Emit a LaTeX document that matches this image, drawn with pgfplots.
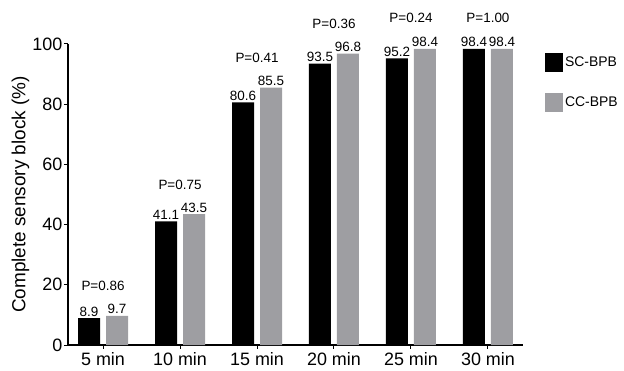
\documentclass[border=0pt]{standalone}
\usepackage{fontspec}
\setmainfont{Liberation Sans}
\usepackage{pgfplots}
\usepackage{pgfplotstable}
\pgfplotsset{compat=1.18}
\definecolor{ccgray}{RGB}{158,158,162}

\pgfplotstableread{
x sc cc
0 8.9 9.7
1 41.1 43.5
2 80.6 85.5
3 93.5 96.8
4 95.2 98.4
5 98.4 98.4
}\bars

\pgfplotstableread{
x y label
0 19.5 P=0.86
1 53.3 P=0.75
2 95.5 P=0.41
3 106.8 P=0.36
4 108.6 P=0.24
5 108.6 P=1.00
}\ptab

\begin{document}
\begin{tikzpicture}
\begin{axis}[
  scale only axis, width=455bp, height=301bp,
  xmin=-0.455, xmax=5.455, ymin=0, ymax=100,
  axis x line=bottom, axis y line=left,
  axis line style={black, line width=1.1pt, -},
  xtick={0,1,2,3,4,5},
  xticklabels={5 min,10 min,15 min,20 min,25 min,30 min},
  ytick={0,20,40,60,80,100},
  tick align=outside, major tick length=4bp,
  tick style={black, line width=1pt},
  /pgf/number format/assume math mode=true,
  ticklabel style={font=\fontsize{18}{20}\selectfont},
  yticklabel style={inner sep=1.5bp},
  ylabel={Complete sensory block (\%)},
  ylabel style={font=\fontsize{19}{21}\selectfont, yshift=-2bp},
  clip=false,
  legend style={at={(1.048,0.97)}, anchor=north west, draw=none, fill=none,
    font=\fontsize{14}{16}\selectfont, row sep=21bp, inner sep=0pt,
    nodes={inner sep=2bp, xshift=2bp}},
  legend cell align=left,
]
\addplot[ybar, bar width=22bp, bar shift=-14bp, fill=black, draw=none,
  legend image code/.code={\fill[black] (-2bp,-9.5bp) rectangle (16bp,9.5bp);},
  nodes near coords,
  nodes near coords style={xshift=-14bp, anchor=south, font=\fontsize{13.5}{15}\selectfont, inner sep=1.5bp, /pgf/number format/fixed, /pgf/number format/precision=1}]
  table[x=x, y=sc]{\bars};
\addplot[ybar, bar width=22bp, bar shift=14bp, fill=ccgray, draw=none,
  legend image code/.code={\fill[ccgray] (-2bp,-9.5bp) rectangle (16bp,9.5bp);},
  nodes near coords,
  nodes near coords style={xshift=14bp, anchor=south, font=\fontsize{13.5}{15}\selectfont, inner sep=1.5bp, /pgf/number format/fixed, /pgf/number format/precision=1}]
  table[x=x, y=cc]{\bars};
\addplot[draw=none, forget plot, nodes near coords, point meta=explicit symbolic,
  nodes near coords style={anchor=center, font=\fontsize{13.5}{15}\selectfont}]
  table[x=x, y=y, meta=label]{\ptab};
\legend{SC-BPB, CC-BPB}
\end{axis}
\path (current axis.south west) ++(-68bp,-26bp) rectangle ++(624bp,371bp);
\end{tikzpicture}
\end{document}
